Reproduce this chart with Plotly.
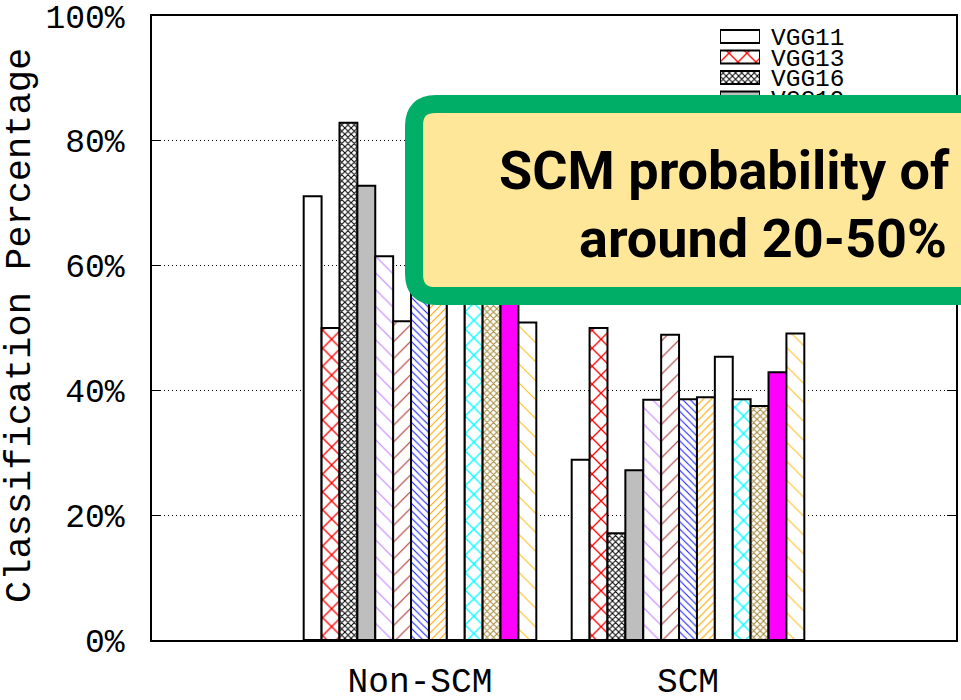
import plotly.graph_objects as go

# ---- data -------------------------------------------------------------
groups = ["Non-SCM", "SCM"]
models = ["VGG11", "VGG13", "VGG16", "VGG19", "ResNet18", "ResNet34",
          "ResNet50", "ResNet101", "ResNet152", "DenseNet121",
          "DenseNet161", "DenseNet169", "DenseNet201"]
non_scm = [71.1, 50.0, 82.9, 72.8, 61.5, 51.1, 61.4, 61.1, 54.6, 61.4, 62.5, 57.1, 50.9]
scm = [28.9, 50.0, 17.1, 27.2, 38.5, 48.9, 38.6, 38.9, 45.4, 38.6, 37.5, 42.9, 49.1]
y_ticks = [0, 20, 40, 60, 80, 100]

# ---- per-model fill style (gnuplot-like patterns) ---------------------
fill_color = ["white", "white", "white", "#bebebe", "white", "white", "white",
              "white", "white", "white", "white", "#ff00ff", "white"]
pat_shape = ["", "x", "x", "", "\\", "/", "\\", "/", "", "x", "x", "", "\\"]
pat_color = ["black", "#ff0000", "#000000", "black", "#c080ff", "#a83232",
             "#1a1aff", "#ffa500", "black", "#00ffff", "#a5893a", "black", "#ffc020"]
pat_size = [8, 12.7, 4.4, 8, 11.8, 11.8, 5.2, 5.6, 8, 12.3, 4.6, 8, 13.4]
pat_solid = [0.1, 0.2, 0.42, 0.1, 0.09, 0.09, 0.2, 0.19, 0.1, 0.2, 0.4, 0.1, 0.08]

MONO = "Liberation Mono, Courier New, monospace"
W, H = 961, 700
L, R, T, B = 152, 5, 16, 60
PW, PH = W - L - R, H - T - B


def px(x):
    return (x - L) / PW


def py(y):
    return (H - B - y) / PH


def bar_marker(i):
    return dict(
        color=fill_color[i],
        line=dict(color="black", width=2),
        pattern=dict(shape=pat_shape[i], fgcolor=pat_color[i],
                     bgcolor=fill_color[i], size=pat_size[i],
                     solidity=pat_solid[i], fillmode="replace"),
    )


fig = go.Figure()

for i, name in enumerate(models):
    fig.add_trace(go.Bar(
        x=[0, 1], y=[non_scm[i], scm[i]], name=name, showlegend=False,
        marker=bar_marker(i),
    ))

# key swatches drawn as a small horizontal-bar inset in the top right
for i, name in enumerate(models):
    fig.add_trace(go.Bar(
        x=[1], y=[i], orientation="h", width=0.634, name=name,
        xaxis="x2", yaxis="y2", showlegend=False, hoverinfo="skip",
        marker=bar_marker(i),
    ))

# rounded call-out box (centre line of the green frame)
cl, ct, cb, cr, rad = 414, 104, 296, 1200, 22
path = (f"M{px(cl + rad)},{py(ct)} L{px(cr)},{py(ct)} L{px(cr)},{py(cb)} "
        f"L{px(cl + rad)},{py(cb)} Q{px(cl)},{py(cb)} {px(cl)},{py(cb - rad)} "
        f"L{px(cl)},{py(ct + rad)} Q{px(cl)},{py(ct)} {px(cl + rad)},{py(ct)} Z")
fig.add_shape(type="path", path=path, xref="paper", yref="paper",
              fillcolor="#fee799", line=dict(color="#00ae68", width=18),
              layer="above")

callout_font = dict(family="Roboto, Arial, sans-serif", size=54,
                    color="black", weight="bold")
fig.add_annotation(text="SCM probability of classification is",
                   x=px(497), y=py(170), xref="paper", yref="paper",
                   xanchor="left", yanchor="middle", showarrow=False,
                   font=callout_font)
fig.add_annotation(text="around 20-50% across all models",
                   x=px(577), y=py(239), xref="paper", yref="paper",
                   xanchor="left", yanchor="middle", showarrow=False,
                   font=callout_font)

fig.add_annotation(text="Classification Percentage", textangle=-90,
                   x=px(20), y=py(326), xref="paper", yref="paper",
                   xanchor="center", yanchor="middle", showarrow=False,
                   font=dict(family=MONO, size=37, color="black"))

# inset domain for the key
n = len(models)
row = 20.5
top_c = 36.5
y_top = top_c - row / 2
y_bot = top_c + (n - 1) * row + row / 2

fig.update_layout(
    width=W, height=H,
    margin=dict(l=L, r=R, t=T, b=B, pad=0, autoexpand=False),
    paper_bgcolor="white", plot_bgcolor="rgba(0,0,0,0)",
    barmode="group", bargap=0.132, bargroupgap=0,
    showlegend=False,
    xaxis=dict(
        range=[-1, 2], tickvals=[0, 1], ticktext=groups, automargin=False,
        showgrid=False, zeroline=False, ticks="",
        showline=True, linecolor="black", linewidth=1.5, mirror=True,
        tickfont=dict(family=MONO, size=34.5, color="black"),
        ticklabelstandoff=9,
    ),
    yaxis=dict(
        range=[0, 100], tickvals=y_ticks, automargin=False,
        ticktext=[f"{v}%" for v in y_ticks],
        showgrid=True, gridcolor="black", gridwidth=1, griddash="1px,3px",
        zeroline=False, ticks="inside", ticklen=9, tickwidth=1,
        tickcolor="black",
        showline=True, linecolor="black", linewidth=1.5, mirror="ticks",
        tickfont=dict(family=MONO, size=33, color="black"),
        ticklabelstandoff=19,
    ),
    xaxis2=dict(domain=[px(720), px(760)], range=[0, 1], anchor="y2",
                visible=False, fixedrange=True, automargin=False),
    yaxis2=dict(domain=[py(y_bot), py(y_top)], range=[n - 0.5, -0.5],
                anchor="x2", side="right", showgrid=False, zeroline=False,
                showline=False, ticks="", tickvals=list(range(n)),
                ticktext=models, ticklabelstandoff=10, automargin=False,
                tickfont=dict(family=MONO, size=24.5, color="black")),
)

fig.write_html("out.html")
